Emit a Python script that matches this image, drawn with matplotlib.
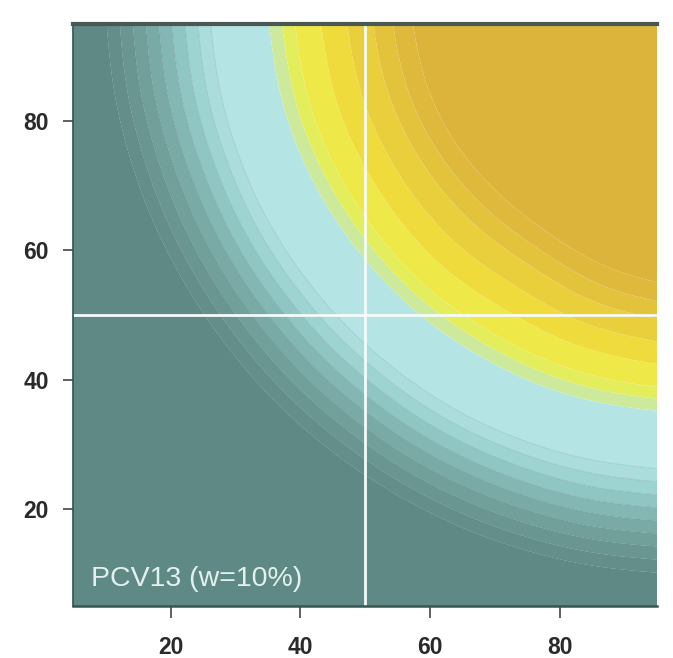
import numpy as np
import matplotlib
matplotlib.use("Agg")
import matplotlib.pyplot as plt
import matplotlib.tri as mtri

plt.rcParams['font.family'] = ['Liberation Sans', 'DejaVu Sans']

# grid coordinates (x across, y up)
x_vals = [5, 15, 25, 35, 45, 55, 65, 75, 85, 95]
y_vals = [5, 15, 25, 35, 45, 55, 65, 75, 85, 95]

# surface values (rows = y from 5 to 95, columns = x from 5 to 95)
z_rows = [
    [-34.4, -27.5, -21.0, -15.1, -9.8, -5.1, -1.2, 1.8, 3.8, 4.9],
    [-27.5, -20.2, -13.4, -7.0, -1.2, 3.8, 8.1, 11.4, 13.7, 14.8],
    [-21.0, -13.4, -6.1, 0.8, 7.0, 12.5, 17.2, 20.9, 23.5, 24.8],
    [-15.1, -7.0, 0.8, 8.1, 14.8, 20.9, 26.2, 30.4, 33.3, 34.8],
    [-9.8, -1.2, 7.0, 14.8, 22.2, 28.9, 34.8, 39.6, 43.5, 46.0],
    [-5.1, 3.8, 12.5, 20.9, 28.9, 36.4, 43.0, 48.5, 53.8, 57.0],
    [-1.2, 8.1, 17.2, 26.2, 34.8, 43.0, 50.5, 57.0, 62.5, 65.8],
    [1.8, 11.4, 20.9, 30.4, 39.6, 48.5, 57.0, 64.6, 70.9, 74.5],
    [3.8, 13.7, 23.5, 33.3, 43.0, 52.6, 61.9, 70.9, 78.8, 84.2],
    [4.9, 14.8, 24.8, 34.8, 44.8, 54.7, 64.6, 74.5, 84.2, 92.9],
]

levels = [-200, 10, 12, 14, 16, 18, 20, 22, 24, 26, 35, 37, 39, 43, 47, 51, 54, 57, 200]
band_colors = ['#5f8984', '#648e89', '#6a9691', '#719f9a', '#79aaa6', '#83b7b3',
               '#8fc5c2', '#9dd3d1', '#aadddc', '#b4e5e4', '#cdea9c', '#e4ed5c',
               '#eee948', '#efdc3c', '#eacf3c', '#e4c33c', '#dfb93c', '#dcb43c']

x_ticks = [20, 40, 60, 80]
y_ticks = [20, 40, 60, 80]
ref_x = 50
ref_y = 50
panel_label = "PCV13 (w=10%)"

fig = plt.figure(figsize=(6.73, 6.58), dpi=100)
ax = fig.add_axes([0.1089, 0.0790, 0.8678, 0.885])

X, Y = np.meshgrid(x_vals, y_vals)
Z = np.array(z_rows)
tri = mtri.Triangulation(X.ravel().astype(float), Y.ravel().astype(float))
refiner = mtri.UniformTriRefiner(tri)
tri_f, z_f = refiner.refine_field(Z.ravel(), subdiv=4)
ax.tricontourf(tri_f, z_f, levels=levels, colors=band_colors, antialiased=True)
ax.tricontour(tri_f, z_f, levels=levels[1:10], colors='#4a706c', linewidths=0.5, alpha=0.25)

ax.axvline(ref_x, color='#f4fbf8', lw=2)
ax.axhline(ref_y, color='#f4fbf8', lw=2)

ax.text(7.7, 8.1, panel_label, fontsize=20.5, color='#e3f1ee', va='baseline', ha='left')

ax.set_xlim(5, 95)
ax.set_ylim(5, 95)
ax.set_xticks(x_ticks)
ax.set_yticks(y_ticks)
ax.spines['right'].set_visible(False)
ax.spines['top'].set_linewidth(3)
ax.spines['top'].set_color('#4b5753')
ax.spines['left'].set_linewidth(1.2)
ax.spines['left'].set_color('#2f4f4b')
ax.spines['bottom'].set_linewidth(1.8)
ax.spines['bottom'].set_color('#3b5550')
ax.tick_params(axis='x', length=8.6, width=1.2, color='#444444', pad=13.0,
               labelsize=16.5, labelcolor='#2a2a2a')
ax.tick_params(axis='y', length=7.0, width=1.2, color='#444444', pad=10.5,
               labelsize=16.5, labelcolor='#2a2a2a')
for lab in ax.get_xticklabels() + ax.get_yticklabels():
    lab.set_fontweight('bold')

fig.savefig('out.png', dpi=100, facecolor='white')
